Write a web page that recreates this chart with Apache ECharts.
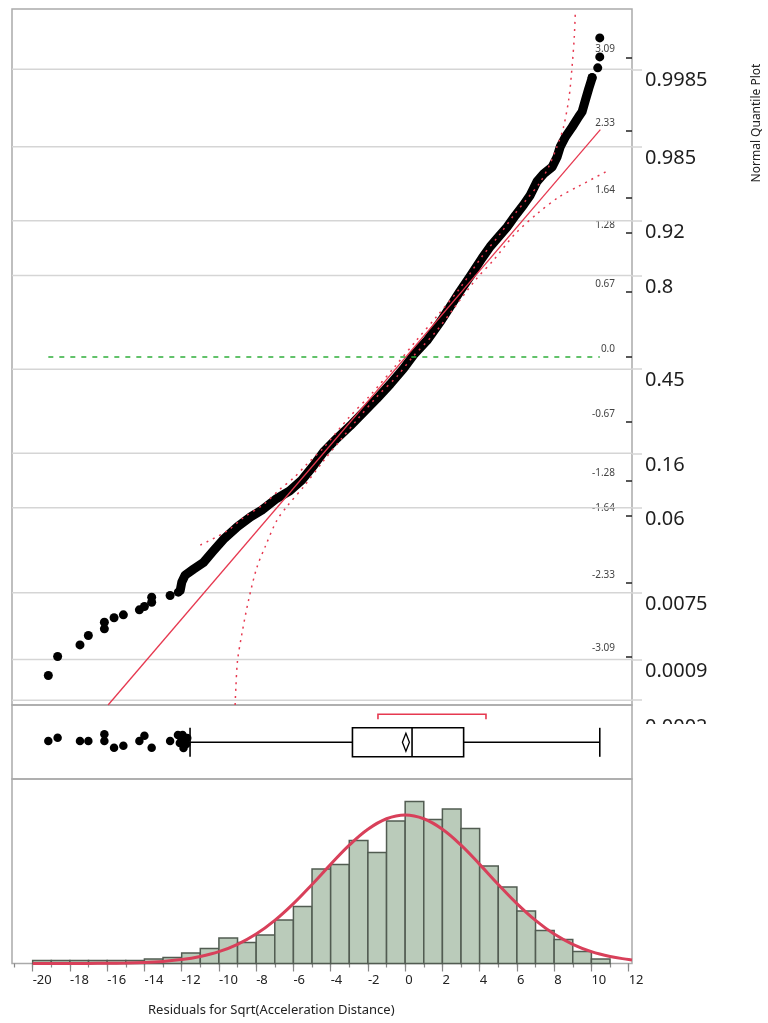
<!DOCTYPE html>
<html>
<head>
<meta charset="utf-8">
<script src="https://cdn.jsdelivr.net/npm/echarts@6/dist/echarts.min.js"></script>
<style>
html, body { margin: 0; padding: 0; background: #fff; }
#main { width: 768px; height: 1023px; }
</style>
</head>
<body>
<div id="main"></div>
<script>
// histogram of residuals, bin width 1, starting at each value below
var binStarts = [-20, -19, -18, -17, -16, -15, -14, -13, -12, -11, -10, -9, -8, -7, -6, -5,
                 -4, -3, -2, -1, 0, 1, 2, 3, 4, 5, 6, 7, 8, 9, 10];
var binCounts = [2, 2, 2, 2, 2, 2, 3, 4, 7, 10, 17, 14, 19, 29, 38, 63,
                 66, 82, 74, 95, 108, 96, 103, 90, 65, 51, 35, 22, 16, 8, 3];

// fitted normal curve
var curveX = [-20, -19, -18, -17, -16, -15, -14, -13, -12, -11, -10, -9, -8, -7, -6, -5, -4, -3, -2, -1,
              0, 1, 2, 3, 4, 5, 6, 7, 8, 9, 10, 11, 12, 12.18];
var curveY = [0, 0.01, 0.03, 0.07, 0.16, 0.34, 0.7, 1.4, 2.6, 4.7, 7.9, 12.8, 19.6, 28.7, 39.9, 52.7, 66.1, 78.9, 89.5, 96.5,
              99, 96.5, 89.5, 78.9, 66.1, 52.7, 39.9, 28.7, 19.6, 12.8, 7.9, 4.7, 2.6, 2.3];

// normal quantile plot: dense run of points [residual, quantile]
var qqChain = [
    [-12.08, -2.41], [-11.99, -2.32], [-11.81, -2.25], [-11.37, -2.19], [-10.83, -2.12], [-10.3, -2.0],
    [-9.7, -1.87], [-9.0, -1.75], [-8.3, -1.65], [-7.7, -1.58], [-6.9, -1.46], [-6.2, -1.38],
    [-5.55, -1.27], [-4.92, -1.12], [-4.38, -0.98], [-3.67, -0.84], [-2.95, -0.71], [-2.24, -0.57],
    [-1.52, -0.43], [-0.8, -0.28], [-0.09, -0.12], [0.45, 0.02], [1.17, 0.17], [1.95, 0.38],
    [2.92, 0.67], [3.52, 0.84], [4.13, 1.02], [4.57, 1.14], [5.02, 1.24], [5.47, 1.34], [5.92, 1.46],
    [6.36, 1.57], [6.72, 1.67], [7.08, 1.81], [7.44, 1.89], [7.89, 1.96], [8.15, 2.06], [8.33, 2.17],
    [8.6, 2.27], [8.96, 2.37], [9.32, 2.48], [9.5, 2.53], [9.68, 2.65], [9.86, 2.77], [10.04, 2.88]
];
// separate points in the tails
var qqPoints = [
    [-19.16, -3.286], [-18.66, -3.09], [-17.46, -2.97], [-17.01, -2.873], [-16.15, -2.804], [-16.15, -2.736],
    [-15.63, -2.69], [-15.13, -2.66], [-14.27, -2.608], [-14.0, -2.574], [-13.61, -2.53], [-13.61, -2.478],
    [-12.62, -2.46], [-12.18, -2.426],
    [10.04, 2.883], [10.34, 2.983], [10.45, 3.096], [10.45, 3.292]
];
var fitLine = [[-15.95, -3.59], [10.48, 2.345]];
var bandUpper = [
    [-11.0, -1.94], [-9.6, -1.8], [-8.7, -1.66], [-7.6, -1.52], [-6.7, -1.36], [-6.0, -1.25], [-5.3, -1.11],
    [-4.4, -0.94], [-3.0, -0.62], [-1.9, -0.4], [-0.6, -0.11], [0.6, 0.17], [1.7, 0.42], [2.9, 0.7],
    [4.1, 1.03], [5.1, 1.27], [5.9, 1.48], [6.5, 1.62], [7.2, 1.79], [7.7, 1.96], [8.15, 2.17],
    [8.5, 2.37], [8.8, 2.68], [8.96, 2.99], [9.08, 3.3], [9.14, 3.58]
];
var bandLower = [
    [-9.13, -3.59], [-9.09, -3.41], [-9.0, -3.13], [-8.77, -2.86], [-8.41, -2.51], [-7.96, -2.17],
    [-7.5, -1.95], [-6.9, -1.69], [-6.3, -1.53], [-5.46, -1.34], [-4.38, -1.07], [-3.49, -0.86],
    [-2.59, -0.65], [-1.52, -0.41], [-0.44, -0.2], [0.4, 0.0], [1.6, 0.25], [2.6, 0.5], [3.8, 0.8],
    [4.75, 1.0], [5.9, 1.27], [7.1, 1.48], [8.25, 1.65], [9.3, 1.76], [10.97, 1.93]
];
var zeroLine = [[-19.16, 0], [10.45, 0]];
var quantileTicks = [3.09, 2.33, 1.64, 1.28, 0.67, 0, -0.67, -1.28, -1.64, -2.33, -3.09];
var probLabels = ['0.9985', '0.985', '0.92', '0.8', '0.45', '0.16', '0.06', '0.0075', '0.0009', '0.0002'];
var probZ = [2.968, 2.17, 1.405, 0.842, -0.126, -0.994, -1.555, -2.432, -3.121, -3.54];

// outlier box plot
var boxStats = [-11.55, -2.83, 0.37, 3.14, 10.45]; // whisker lo, q1, median, q3, whisker hi
var boxMean = 0.04;
var shortestHalf = [-1.46, 4.34];
var boxOutliers = [
    [-19.16, 38], [-18.66, 41.3], [-17.46, 38], [-17.01, 38], [-16.15, 44.7], [-16.15, 38],
    [-15.63, 31.3], [-15.13, 33.3], [-14.27, 38], [-14.0, 43.3], [-13.61, 31.3], [-12.62, 38],
    [-12.2, 44], [-11.95, 44], [-11.8, 39], [-12.1, 36], [-11.9, 31], [-11.75, 35], [-11.7, 41], [-12.0, 40]
];

var xTicks = [-20, -18, -16, -14, -12, -10, -8, -6, -4, -2, 0, 2, 4, 6, 8, 10, 12];
var xMinorTicks = [-21, -20, -19, -18, -17, -16, -15, -14, -13, -12, -11, -10, -9, -8, -7, -6, -5, -4, -3, -2, -1,
                   0, 1, 2, 3, 4, 5, 6, 7, 8, 9, 10, 11, 12];

var xMin = -21.11, xMax = 12.18;
var font = 'Noto Sans';
var red = '#e63950';

var chart = echarts.init(document.getElementById('main'));

var hiddenX = function (gi) {
    return { type: 'value', gridIndex: gi, min: xMin, max: xMax, show: false };
};

var option = {
    animation: false,
    textStyle: { fontFamily: font },
    grid: [
        { left: 12, top: 9, width: 620, height: 696, show: true, borderColor: '#aaa', borderWidth: 1.5 },
        { left: 12, top: 705, width: 620, height: 74, show: true, borderColor: '#aaa', borderWidth: 1.5 },
        { left: 12, top: 779, width: 620, height: 184.5, show: true, borderColor: '#aaa', borderWidth: 1.5 }
    ],
    xAxis: [
        hiddenX(0),
        hiddenX(1),
        {
            type: 'value', gridIndex: 2, min: xMin, max: xMax, position: 'bottom',
            axisLine: { show: false, onZero: false },
            splitLine: { show: false },
            axisTick: { show: true, length: 8, customValues: xTicks, lineStyle: { color: '#888', width: 1.2 } },
            axisLabel: { customValues: xTicks, align: 'left', margin: 10, fontSize: 13, color: '#222', fontFamily: font }
        },
        {
            type: 'value', gridIndex: 2, min: xMin, max: xMax, position: 'bottom',
            axisLine: { show: false, onZero: false },
            splitLine: { show: false },
            axisTick: { show: true, length: 4, customValues: xMinorTicks, lineStyle: { color: '#888', width: 1.2 } },
            axisLabel: { show: false }
        }
    ],
    yAxis: [
        {
            type: 'value', gridIndex: 0, min: -3.59, max: 3.59, position: 'right',
            axisLine: { show: false, onZero: false },
            splitLine: { show: false },
            axisTick: { show: true, inside: true, length: 6, customValues: quantileTicks, lineStyle: { color: '#222', width: 1.5 } },
            axisLabel: {
                inside: true, customValues: quantileTicks, margin: 17, fontSize: 10, color: '#444',
                verticalAlign: 'bottom', padding: [0, 0, 3, 0], fontFamily: font,
                formatter: function (v) { return v === 0 ? '0.0' : String(v); }
            }
        },
        {
            type: 'value', gridIndex: 0, min: -3.59, max: 3.59, position: 'right',
            axisLine: { show: false, onZero: false },
            splitLine: { show: false },
            axisTick: { show: true, length: 10, customValues: probZ, lineStyle: { color: '#d5d5d5', width: 1.5 } },
            axisLabel: {
                customValues: probZ.slice(0, 9), margin: 13, fontSize: 20, color: '#1e1e1e',
                verticalAlign: 'top', lineHeight: 23, fontFamily: font,
                formatter: function (v) { return probLabels[probZ.indexOf(v)]; }
            }
        },
        { type: 'value', gridIndex: 1, min: 0, max: 74, show: false },
        { type: 'value', gridIndex: 2, min: 0, max: 123, show: false }
    ],
    graphic: [
        {
            type: 'text', x: 757, y: 123, rotation: Math.PI / 2, z: 10,
            style: { text: 'Normal Quantile Plot', font: '12px "Noto Sans"', fill: '#222', align: 'center', verticalAlign: 'middle' }
        },
        {
            type: 'text', x: 148, y: 1010, z: 10,
            style: { text: 'Residuals for Sqrt(Acceleration Distance)', font: '13px "Noto Sans"', fill: '#222', align: 'left', verticalAlign: 'middle' }
        },
        {
            type: 'text', x: 645, y: 717, z: 10,
            style: { text: probLabels[9], font: '20px "Noto Sans"', fill: '#1e1e1e', align: 'left', verticalAlign: 'top' }
        },
        {
            type: 'rect', z: 11, shape: { x: 636, y: 724, width: 132, height: 60 }, style: { fill: '#fff' }
        }
    ],
    series: [
        {
            // horizontal grid lines at probability ticks
            type: 'custom', xAxisIndex: 0, yAxisIndex: 0, z: 1,
            data: probZ,
            renderItem: function (params, api) {
                var a = api.coord([xMin, api.value(0)]);
                var b = api.coord([xMax, api.value(0)]);
                return { type: 'line', shape: { x1: a[0], y1: a[1], x2: b[0], y2: b[1] }, style: { stroke: '#d5d5d5', lineWidth: 1.5 } };
            }
        },
        {
            type: 'line', xAxisIndex: 0, yAxisIndex: 0, data: qqChain, symbol: 'none', z: 2,
            lineStyle: { color: '#000', width: 9, cap: 'round', join: 'round' }
        },
        {
            type: 'scatter', xAxisIndex: 0, yAxisIndex: 0, data: qqPoints, symbolSize: 9, z: 2,
            itemStyle: { color: '#000', opacity: 1 }
        },
        {
            type: 'line', xAxisIndex: 0, yAxisIndex: 0, data: fitLine, symbol: 'none', z: 3,
            lineStyle: { color: red, width: 1.3 }
        },
        {
            type: 'line', xAxisIndex: 0, yAxisIndex: 0, data: bandUpper, symbol: 'none', smooth: 0.3, z: 3,
            lineStyle: { color: red, width: 1.5, type: [2, 5] }
        },
        {
            type: 'line', xAxisIndex: 0, yAxisIndex: 0, data: bandLower, symbol: 'none', smooth: 0.3, z: 3,
            lineStyle: { color: red, width: 1.5, type: [2, 5] }
        },
        {
            type: 'line', xAxisIndex: 0, yAxisIndex: 0, data: zeroLine, symbol: 'none', z: 4,
            lineStyle: { color: '#2fae3a', width: 1.5, type: [5, 6] }
        },
        {
            type: 'scatter', xAxisIndex: 1, yAxisIndex: 2, data: boxOutliers, symbolSize: 8.5,
            itemStyle: { color: '#000', opacity: 1 }
        },
        {
            type: 'custom', xAxisIndex: 1, yAxisIndex: 2,
            data: [boxStats.concat([boxMean]).concat(shortestHalf)],
            renderItem: function (params, api) {
                var mid = 36.7, half = 14.5;
                var lo = api.coord([api.value(0), mid]);
                var q1 = api.coord([api.value(1), mid + half]);
                var md = api.coord([api.value(2), mid]);
                var q3 = api.coord([api.value(3), mid - half]);
                var hi = api.coord([api.value(4), mid]);
                var mn = api.coord([api.value(5), mid]);
                var s0 = api.coord([api.value(6), 64.7]);
                var s1 = api.coord([api.value(7), 64.7]);
                var top = q1[1], bot = q3[1];
                var ln = { stroke: '#000', lineWidth: 1.6, fill: null };
                return {
                    type: 'group',
                    children: [
                        { type: 'line', shape: { x1: lo[0], y1: lo[1], x2: q1[0], y2: lo[1] }, style: ln },
                        { type: 'line', shape: { x1: q3[0], y1: hi[1], x2: hi[0], y2: hi[1] }, style: ln },
                        { type: 'line', shape: { x1: lo[0], y1: top, x2: lo[0], y2: bot }, style: ln },
                        { type: 'line', shape: { x1: hi[0], y1: top, x2: hi[0], y2: bot }, style: ln },
                        { type: 'rect', shape: { x: q1[0], y: top, width: q3[0] - q1[0], height: bot - top },
                          style: { stroke: '#000', lineWidth: 1.6, fill: '#fff' } },
                        { type: 'line', shape: { x1: md[0], y1: top, x2: md[0], y2: bot }, style: ln },
                        { type: 'polygon', shape: { points: [[mn[0], mn[1] - 9], [mn[0] + 3.5, mn[1]], [mn[0], mn[1] + 9], [mn[0] - 3.5, mn[1]]] },
                          style: { stroke: '#000', lineWidth: 1.3, fill: '#fff' } },
                        { type: 'polyline', shape: { points: [[s0[0], s0[1] + 5], [s0[0], s0[1]], [s1[0], s1[1]], [s1[0], s1[1] + 5]] },
                          style: { stroke: red, lineWidth: 1.6, fill: null } }
                    ]
                };
            }
        },
        {
            type: 'custom', xAxisIndex: 2, yAxisIndex: 3,
            data: binStarts.map(function (b, i) { return [b, binCounts[i]]; }),
            renderItem: function (params, api) {
                var p0 = api.coord([api.value(0), api.value(1)]);
                var p1 = api.coord([api.value(0) + 1, 0]);
                return {
                    type: 'rect',
                    shape: { x: p0[0], y: p0[1], width: p1[0] - p0[0], height: p1[1] - p0[1] },
                    style: { fill: '#bacbba', stroke: '#525c52', lineWidth: 1.5 }
                };
            }
        },
        {
            type: 'line', xAxisIndex: 2, yAxisIndex: 3, symbol: 'none', smooth: 0.4, z: 5,
            data: curveX.map(function (x, i) { return [x, curveY[i]]; }),
            lineStyle: { color: '#d8405a', width: 3 }
        }
    ]
};

chart.setOption(option);
</script>
</body>
</html>
